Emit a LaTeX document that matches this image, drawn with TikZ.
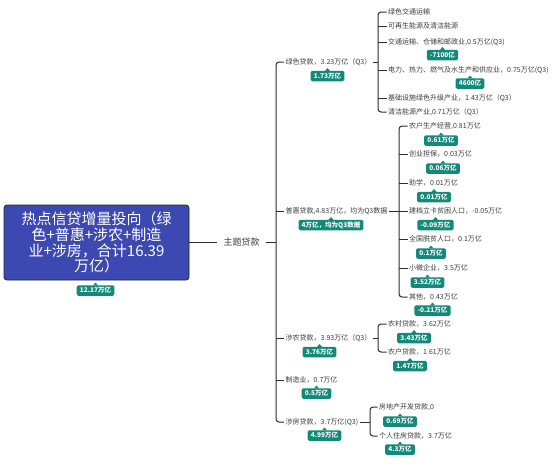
\documentclass[tikz,border=0pt]{standalone}
\usepackage{fontspec}
\setmainfont{Noto Sans CJK SC}
\definecolor{rootblue}{RGB}{61,73,178}
\definecolor{tealc}{RGB}{18,138,122}
\definecolor{txt}{RGB}{60,60,60}
\definecolor{ln}{RGB}{45,45,45}
\newcommand\mklab[4]{\node[lbl] (#1) at (#2,#3) {#4};
  \fill[tealc] (#1.north) ++(-2.6pt,-0.4pt) -- ++(2.6pt,2.9pt) -- ++(2.6pt,-2.9pt) -- cycle;}
\begin{document}
\begin{tikzpicture}[x=1pt,y=-1pt,
  topic/.style={anchor=west,inner xsep=1.5pt,inner ysep=1pt,font=\fontsize{7}{8}\selectfont,text=txt},
  lbl/.style={fill=tealc,text=white,rounded corners=1.5pt,font=\fontsize{6.5}{7}\selectfont\bfseries,inner xsep=3.2pt,inner ysep=1.5pt,minimum height=10.5pt},
  conn/.style={draw=ln,line width=1pt},
  br/.style={conn,rounded corners=3pt}]
\useasboundingbox[fill=white] (0,0) rectangle (554,464);

% root
\node[draw=black!85,line width=0.8pt,fill=rootblue,rounded corners=3pt,minimum width=185pt,minimum height=75pt,
  text=white,align=center,font=\fontsize{15}{15.8}\selectfont,inner sep=0pt] (root) at (96.5,242.5)
  {热点信贷增量投向（绿\\色+普惠+涉农+制造\\业+涉房，合计16.39\\万亿）};
\mklab{rootl}{95.5}{290.5}{12.17万亿}

% main topic
\node[font=\fontsize{9}{10}\selectfont,text=txt,inner xsep=6pt,inner ysep=1pt] (zt) at (241.5,242) {主题贷款};
\draw[conn] (root.east |- zt.west) -- (zt.west);

% level 2
\coordinate (tb) at (276,0);
\node[topic] (g) at (284,62) {绿色贷款，3.23万亿（Q3）};
\node[topic] (p) at (284,211) {普惠贷款,4.83万亿，均为Q3数据};
\node[topic] (a) at (284,338) {涉农贷款，3.93万亿（Q3）};
\node[topic] (m) at (284,380) {制造业，0.7万亿};
\node[topic] (h) at (284,422) {涉房贷款，3.7万亿(Q3)};
\draw[conn] (zt.east) -- (zt.east -| tb);
\draw[br] (g.west) -- (g.west -| tb) -- (h.west -| tb) -- (h.west);
\foreach \c in {p,a,m} \draw[conn] (\c.west -| tb) -- (\c.west);
\mklab{gl}{327.5}{76}{1.73万亿}
\mklab{pl}{331}{225}{4万亿，均为Q3数据}
\mklab{al}{319.5}{352}{3.76万亿}
\mklab{ml}{316.5}{393.5}{0.5万亿}
\mklab{hl}{324.5}{435.5}{4.99万亿}

% green children
\coordinate (gb) at (378,0);
\node[topic] (g1) at (386.5,12) {绿色交通运输};
\node[topic] (g2) at (386.5,26) {可再生能源及清洁能源};
\node[topic] (g3) at (386.5,42) {交通运输、仓储和邮政业,0.5万亿(Q3)};
\node[topic] (g4) at (386.5,70) {电力、热力、燃气及水生产和供应业，0.75万亿(Q3)};
\node[topic] (g5) at (386.5,98) {基础设施绿色升级产业，1.43万亿（Q3）};
\node[topic] (g6) at (386.5,112) {清洁能源产业,0.71万亿（Q3）};
\draw[conn] (g.east) -- (g.east -| gb);
\draw[br] (g1.west) -- (g1.west -| gb) -- (g6.west -| gb) -- (g6.west);
\foreach \c in {g2,g3,g4,g5} \draw[conn] (\c.west -| gb) -- (\c.west);
\mklab{g3l}{442.5}{55}{-7100亿}
\mklab{g4l}{470}{83.5}{4600亿}

% puhui children
\coordinate (pb) at (399,0);
\node[topic] (p1) at (407.5,126) {农户生产经营,0.81万亿};
\node[topic] (p2) at (407.5,154) {创业担保，0.03万亿};
\node[topic] (p3) at (407.5,183) {助学，0.01万亿};
\node[topic] (p4) at (407.5,211) {建档立卡贫困人口，-0.05万亿};
\node[topic] (p5) at (407.5,239) {全国脱贫人口，0.1万亿};
\node[topic] (p6) at (407.5,268) {小微企业，3.5万亿};
\node[topic] (p7) at (407.5,297) {其他，0.43万亿};
\draw[conn] (p.east) -- (p.east -| pb);
\draw[br] (p1.west) -- (p1.west -| pb) -- (p7.west -| pb) -- (p7.west);
\foreach \c in {p2,p3,p4,p5,p6} \draw[conn] (\c.west -| pb) -- (\c.west);
\mklab{p1l}{441}{140.5}{0.61万亿}
\mklab{p2l}{443}{168.5}{0.06万亿}
\mklab{p3l}{434}{197}{0.01万亿}
\mklab{p4l}{435.5}{225}{-0.09万亿}
\mklab{p5l}{431}{253.5}{0.1万亿}
\mklab{p6l}{427.5}{282.5}{3.52万亿}
\mklab{p7l}{432.5}{310.5}{-0.21万亿}

% agri children
\coordinate (ab) at (378,0);
\node[topic] (a1) at (386.5,324) {农村贷款，3.62万亿};
\node[topic] (a2) at (386.5,352) {农户贷款，1.61万亿};
\draw[conn] (a.east) -- (a.east -| ab);
\draw[br] (a1.west) -- (a1.west -| ab) -- (a2.west -| ab) -- (a2.west);
\mklab{a1l}{414}{338}{3.43万亿}
\mklab{a2l}{410}{366}{1.47万亿}

% housing children
\coordinate (hb) at (370,0);
\node[topic] (h1) at (377.5,407) {房地产开发贷款,0};
\node[topic] (h2) at (377.5,436) {个人住房贷款，3.7万亿};
\draw[conn] (h.east) -- (h.east -| hb);
\draw[br] (h1.west) -- (h1.west -| hb) -- (h2.west -| hb) -- (h2.west);
\mklab{h1l}{400}{421.5}{0.69万亿}
\mklab{h2l}{400}{449.5}{4.3万亿}
\end{tikzpicture}
\end{document}
